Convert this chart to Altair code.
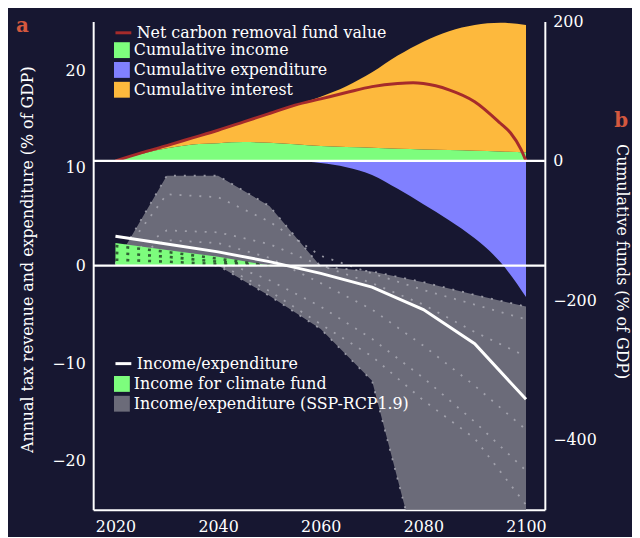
import altair as alt
import pandas as pd

# ---------------- panel a : annual values (left axis) ----------------
years_a = [2020, 2030, 2040, 2050, 2060, 2070, 2080, 2090, 2100]
income_expenditure = [3.0, 2.2, 1.4, 0.4, -0.8, -2.2, -4.5, -8.0, -13.7]
ssp_upper = [0.2, 9.2, 9.2, 6.1, -0.1, -0.6, -1.7, -3.0, -4.2]
ssp_lower = [0.2, 0.2, 0.0, -3.1, -6.5, -11.8, -32.0, -40.0, -45.0]
scen_3 = [0.2, 7.3, 7.0, 4.5, 1.0, -0.8, -2.5, -4.0, -5.5]
scen_4 = [0.2, 3.6, 3.4, 2.2, 0.0, -1.8, -4.0, -6.8, -9.3]
scen_5 = [0.2, 2.6, 2.3, 0.8, -1.8, -4.5, -8.2, -12.3, -16.8]
scen_6 = [0.2, 1.2, 0.6, -1.5, -4.2, -7.5, -11.5, -16.0, -21.0]
scen_7 = [0.2, 0.6, 0.2, -2.6, -6.0, -9.3, -13.8, -17.7, -24.5]

climate_years = [2020, 2030, 2040, 2050]
climate_income = [2.3, 1.6, 0.9, 0.0]
clim_dots_1 = [2.0, 1.4, 0.7, 0.0]
clim_dots_2 = [1.3, 0.9, 0.4, 0.0]
clim_dots_3 = [0.6, 0.4, 0.15, 0.0]

# ---------------- panel b : cumulative funds (right axis) ----------------
years_b = [2020, 2025, 2030, 2035, 2040, 2045, 2050, 2055, 2060,
           2065, 2070, 2075, 2080, 2085, 2090, 2095, 2100]
cum_income = [0, 10, 18, 23.5, 25.5, 27, 26, 24, 21.5,
              20, 19, 17.5, 16.5, 15.5, 14.5, 13.5, 12]
cum_interest = [0, 1.5, 4, 9.5, 18.5, 29, 42, 56, 70.5,
                87, 108, 133.5, 154.5, 170.5, 180.5, 184.5, 183]
cum_expenditure = [0, 0, 0, 0, 0, 0, 0, 0, -3,
                   -9, -20, -40, -62, -85, -111, -145, -195]
net_years = [2020, 2025, 2030, 2035, 2040, 2045, 2050, 2055, 2060, 2065,
             2070, 2075, 2078, 2080, 2085, 2090, 2095, 2097, 2099, 2100]
net_value = [0, 11.5, 22, 33, 44, 56, 68, 80, 89, 98,
             106.5, 111, 112, 111, 102, 85, 54, 40, 17, 0]

# ---------------- colours / fonts ----------------
BG = "#171731"
GREEN = "#7dfd7d"
BLUE = "#8080ff"
ORANGE = "#fdb93d"
RED = "#a62b2b"
GREY = "#6b6b79"
DOT = "#a9a9b4"
DARKDOT = "#274f2b"
ACCENT = "#d4583e"
FONT = "DejaVu Serif"

df_a = pd.DataFrame({"year": years_a, "ie": income_expenditure,
                     "up": ssp_upper, "lo": ssp_lower,
                     "s": "Income/expenditure (SSP-RCP1.9)",
                     "w": "Income/expenditure"})
scen_rows = []
for name, vals in [("s1", ssp_upper), ("s2", ssp_lower), ("s3", scen_3),
                   ("s4", scen_4), ("s5", scen_5), ("s6", scen_6), ("s7", scen_7)]:
    for y, v in zip(years_a, vals):
        scen_rows.append({"year": y, "v": v, "k": name})
df_scen = pd.DataFrame(scen_rows)

df_clim = pd.DataFrame({"year": climate_years, "v": climate_income})
clim_rows = []
for name, vals in [("g1", clim_dots_1), ("g2", clim_dots_2), ("g3", clim_dots_3)]:
    for y, v in zip(climate_years, vals):
        clim_rows.append({"year": y, "v": v, "k": name})
df_climdots = pd.DataFrame(clim_rows)

df_b = pd.DataFrame({"year": years_b, "inc": cum_income, "int": cum_interest,
                     "exp": cum_expenditure, "s": "Cumulative income"})
df_net = pd.DataFrame({"year": net_years, "v": net_value,
                       "s": "Net carbon removal fund value"})
df_zero = pd.DataFrame({"z": [0]})
df_one = pd.DataFrame({"t": ["a"]})

XDOM = [2015.66, 2103.67]
ADOM = [-25, 25]
BDOM = [-500, 200]


def X():
    return alt.X("year:Q", scale=alt.Scale(domain=XDOM, nice=False, zero=False),
                 axis=alt.Axis(values=[2020, 2040, 2060, 2080, 2100], format="d",
                               title=None, labelPadding=9))


def YA(field, axis=None):
    return alt.Y(field, type="quantitative",
                 scale=alt.Scale(domain=ADOM, nice=False, zero=False), axis=axis)


def YB(field, axis=None):
    return alt.Y(field, type="quantitative",
                 scale=alt.Scale(domain=BDOM, nice=False, zero=False), axis=axis)


left_axis = alt.Axis(orient="left", values=[-20, -10, 0, 10, 20],
                     title="Annual tax revenue and expenditure (% of GDP)",
                     titleX=-66, titleY=240, titleAngle=-90,
                     titleAlign="center", titleBaseline="middle")
right_axis = alt.Axis(orient="right", values=[-400, -200, 0, 200],
                      title="Cumulative funds (% of GDP)",
                      titleX=77, titleY=242, titleAngle=90,
                      titleAlign="center", titleBaseline="middle")

# ---- panel a layers ----
envelope = alt.Chart(df_a).mark_area(clip=True, opacity=1).encode(
    x=X(), y=YA("up", left_axis), y2="lo:Q",
    color=alt.Color("s:N", scale=alt.Scale(
        domain=["Income for climate fund", "Income/expenditure (SSP-RCP1.9)"],
        range=[GREEN, GREY]),
        legend=alt.Legend(orient="none", legendX=21, legendY=358, title=None,
                          symbolType="square", symbolStrokeWidth=0)))

scen_lines = alt.Chart(df_scen).mark_line(
    clip=True, color=DOT, strokeWidth=1.8, strokeDash=[2, 8], opacity=0.85
).encode(x=X(), y=YA("v"), detail="k:N")

clim_area = alt.Chart(df_clim).mark_area(color=GREEN, opacity=1).encode(
    x=X(), y=YA("v"), y2=alt.datum(0))

clim_dots = alt.Chart(df_climdots).mark_line(
    color=DARKDOT, strokeWidth=2.6, strokeDash=[3, 8], opacity=0.9
).encode(x=X(), y=YA("v"), detail="k:N")

white_line = alt.Chart(df_a).mark_line(strokeWidth=3).encode(
    x=X(), y=YA("ie"),
    color=alt.Color("w:N", scale=alt.Scale(domain=["Income/expenditure"], range=["#ffffff"]),
                    legend=alt.Legend(orient="none", legendX=21, legendY=336, title=None,
                                      symbolType="stroke", symbolStrokeWidth=3)))

# ---- panel b layers ----
b_income = alt.Chart(df_b).mark_area(interpolate="monotone", opacity=1).encode(
    x=X(), y=YB("inc", right_axis), y2=alt.datum(0),
    color=alt.Color("s:N", scale=alt.Scale(
        domain=["Cumulative income", "Cumulative expenditure", "Cumulative interest"],
        range=[GREEN, BLUE, ORANGE]),
        legend=alt.Legend(orient="none", legendX=21, legendY=21, title=None,
                          symbolType="square", symbolStrokeWidth=0)))

b_interest = alt.Chart(df_b).transform_calculate(
    top="datum.inc + datum.int"
).mark_area(interpolate="monotone", color=ORANGE, opacity=1).encode(
    x=X(), y=YB("top"), y2="inc:Q")

b_expend = alt.Chart(df_b).mark_area(interpolate="monotone", color=BLUE, opacity=1).encode(
    x=X(), y=YB("exp"), y2=alt.datum(0))

b_net = alt.Chart(df_net).mark_line(interpolate="monotone", strokeWidth=3).encode(
    x=X(), y=YB("v"),
    color=alt.Color("s:N", scale=alt.Scale(domain=["Net carbon removal fund value"], range=[RED]),
                    legend=alt.Legend(orient="none", legendX=21, legendY=2, title=None,
                                      symbolType="stroke", symbolStrokeWidth=3)))

zero_a = alt.Chart(df_zero).mark_rule(color="white", strokeWidth=2.2).encode(y=YA("z"))
zero_b = alt.Chart(df_zero).mark_rule(color="white", strokeWidth=2.2).encode(y=YB("z"))

lab_a = alt.Chart(df_one).mark_text(
    text="a", font=FONT, fontSize=20, fontWeight="bold", color=ACCENT,
    align="center", baseline="middle"
).encode(x=alt.value(-71.5), y=alt.value(5))
lab_b = alt.Chart(df_one).mark_text(
    text="b", font=FONT, fontSize=20, fontWeight="bold", color=ACCENT,
    align="center", baseline="middle"
).encode(x=alt.value(533), y=alt.value(101))

chart = alt.layer(
    envelope, scen_lines, clim_area, clim_dots, white_line,
    b_income, b_interest, b_expend, b_net,
    zero_a, zero_b, lab_a, lab_b
).resolve_scale(
    y="independent", color="independent"
).properties(
    width=456, height=493,
    autosize=alt.AutoSizeParams(type="none"),
    padding={"left": 86, "top": 11, "right": 88, "bottom": 25},
).configure(
    background=BG
).configure_view(
    stroke=None
).configure_axis(
    grid=False, ticks=False, labelPadding=8,
    labelFont=FONT, labelFontSize=16, labelColor="white",
    titleFont=FONT, titleFontSize=16, titleColor="white", titleFontWeight="normal",
    domainColor="white", domainWidth=2,
).configure_legend(
    labelFont=FONT, labelFontSize=16, labelColor="white", labelLimit=400,
    padding=0, rowPadding=4, symbolSize=256, symbolOpacity=1, labelOffset=4,
)

chart.save("out.html", embed_options={"renderer": "svg", "actions": False})
